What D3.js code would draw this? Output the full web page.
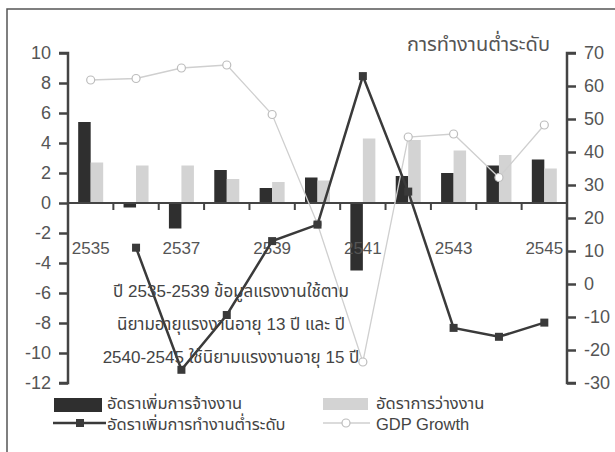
<!DOCTYPE html>
<html><head><meta charset="utf-8">
<script src="https://cdn.jsdelivr.net/npm/d3@7/dist/d3.min.js"></script>
<style>
body{margin:0;background:#fff;}
svg{display:block;font-family:"Liberation Sans",Arial,"Noto Sans Thai","Noto Sans",sans-serif;}
</style></head><body>
<script>
const years = ["2535","2536","2537","2538","2539","2540","2541","2542","2543","2544","2545"];
const xLabels = ["2535","2537","2539","2541","2543","2545"];
const employmentGrowth = [5.4,-0.3,-1.7,2.2,1.0,1.7,-4.5,1.8,2.0,2.5,2.9];
const unemploymentRate = [2.7,2.5,2.5,1.6,1.4,1.5,4.3,4.2,3.5,3.2,2.3];
const underemploymentGrowth = [null,11,-26,-9.4,13,18,63,28,-13.3,-16,-11.7];
const gdpGrowth = [8.2,8.3,9.0,9.2,5.9,-1.4,-10.6,4.4,4.6,1.7,5.2];
const leftTicks = [-12,-10,-8,-6,-4,-2,0,2,4,6,8,10];
const rightTicks = [-30,-20,-10,0,10,20,30,40,50,60,70];
const legendLabels = ["อัดราเพิ่มการจ้างงาน","อัดราการว่างงาน","อัดราเพิ่มการทำงานต่ำระดับ","GDP Growth"];
const rightTitle = "การทำงานต่ำระดับ";
const noteLines = ["ปี 2535-2539 ข้อมูลแรงงานใช้ตาม","นิยามอายุแรงงานอายุ 13 ปี และ ปี","2540-2545 ใช้นิยามแรงงานอายุ 15 ปี"];

const W=615,H=452;
const svg=d3.select("body").append("svg").attr("width",W).attr("height",H);
svg.append("rect").attr("x",7).attr("y",9).attr("width",W+20).attr("height",H+20)
  .attr("fill","#fff").attr("stroke","#555").attr("stroke-width",1.5);

const x=d3.scaleBand().domain(years).range([68,567]);
const yL=d3.scaleLinear().domain([-12,10]).range([383,53]);
const yR=d3.scaleLinear().domain([-30,70]).range([383,53]);
const axisColor="#444", textColor="#555";
const bw=12.5;

// bars
svg.append("g").selectAll("rect").data(years).join("rect")
  .attr("x",d=>x(d)+x.bandwidth()/2-bw)
  .attr("width",bw)
  .attr("y",(d,i)=>yL(Math.max(0,employmentGrowth[i])))
  .attr("height",(d,i)=>Math.abs(yL(employmentGrowth[i])-yL(0)))
  .attr("fill","#2f2f2f");
svg.append("g").selectAll("rect").data(years).join("rect")
  .attr("x",d=>x(d)+x.bandwidth()/2)
  .attr("width",bw)
  .attr("y",(d,i)=>yL(Math.max(0,unemploymentRate[i])))
  .attr("height",(d,i)=>Math.abs(yL(unemploymentRate[i])-yL(0)))
  .attr("fill","#d3d3d3");

// zero axis
const zeroY=yL(0);
svg.append("line").attr("x1",68).attr("x2",567).attr("y1",zeroY).attr("y2",zeroY)
  .attr("stroke",axisColor).attr("stroke-width",2);
svg.append("g").selectAll("line").data(years.slice(1)).join("line")
  .attr("x1",d=>x(d)).attr("x2",d=>x(d)).attr("y1",zeroY).attr("y2",zeroY+7)
  .attr("stroke",axisColor).attr("stroke-width",2);
svg.append("g").selectAll("text").data(xLabels).join("text")
  .attr("x",d=>x(d)+x.bandwidth()/2).attr("y",254)
  .attr("text-anchor","middle").attr("font-size",17).attr("fill",textColor).text(d=>d);

// GDP line
const cx=d=>x(d)+x.bandwidth()/2;
const gdpLine=d3.line().x((d,i)=>cx(years[i])).y(d=>yL(d));
svg.append("path").attr("d",gdpLine(gdpGrowth)).attr("fill","none")
  .attr("stroke","#cfcfcf").attr("stroke-width",1.3);
svg.append("g").selectAll("circle").data(gdpGrowth).join("circle")
  .attr("cx",(d,i)=>cx(years[i])).attr("cy",d=>yL(d)).attr("r",4)
  .attr("fill","#fff").attr("stroke","#bdbdbd").attr("stroke-width",1.2);

// underemployment line
const uLine=d3.line().defined(d=>d!==null).x((d,i)=>cx(years[i])).y(d=>yR(d));
svg.append("path").attr("d",uLine(underemploymentGrowth)).attr("fill","none")
  .attr("stroke","#3a3a3a").attr("stroke-width",2.5);
svg.append("g").selectAll("rect").data(underemploymentGrowth.map((v,i)=>({v,i})).filter(d=>d.v!==null)).join("rect")
  .attr("x",d=>cx(years[d.i])-4).attr("y",d=>yR(d.v)-4).attr("width",8).attr("height",8)
  .attr("fill","#3a3a3a");

// left axis
const fmt=d=>String(d);
const la=svg.append("g").attr("transform","translate(68,0)")
  .call(d3.axisLeft(yL).tickValues(leftTicks).tickSize(9).tickPadding(8).tickFormat(fmt));
la.select(".domain").attr("stroke",axisColor).attr("stroke-width",2.5).attr("d","M-9,53H0V383H-9");
la.selectAll(".tick line").attr("stroke",axisColor).attr("stroke-width",2.5);
la.selectAll(".tick text").attr("font-size",18).attr("fill",textColor).attr("font-family","Liberation Sans,Arial,sans-serif");

// right axis
const ra=svg.append("g").attr("transform","translate(567,0)")
  .call(d3.axisRight(yR).tickValues(rightTicks).tickSize(9).tickPadding(8).tickFormat(fmt));
ra.select(".domain").attr("stroke",axisColor).attr("stroke-width",2.5).attr("d","M9,53H0V383H9");
ra.selectAll(".tick line").attr("stroke",axisColor).attr("stroke-width",2.5);
ra.selectAll(".tick text").attr("font-size",18).attr("fill",textColor).attr("font-family","Liberation Sans,Arial,sans-serif");

// right title
svg.append("text").attr("x",550).attr("y",51).attr("text-anchor","end")
  .attr("font-size",20).attr("fill",textColor).text(rightTitle);

// note
svg.append("g").selectAll("text").data(noteLines).join("text")
  .attr("x",231).attr("y",(d,i)=>297+i*33).attr("text-anchor","middle")
  .attr("font-size",17).attr("fill","#444").text(d=>d);

// legend
svg.append("rect").attr("x",54).attr("y",398).attr("width",48).attr("height",14).attr("fill","#2f2f2f");
svg.append("text").attr("x",107).attr("y",409).attr("font-size",16.5).attr("fill","#444").text(legendLabels[0]);
svg.append("rect").attr("x",323).attr("y",398).attr("width",45).attr("height",12).attr("fill","#d3d3d3");
svg.append("text").attr("x",376).attr("y",409).attr("font-size",16.5).attr("fill","#444").text(legendLabels[1]);
svg.append("line").attr("x1",53).attr("x2",106).attr("y1",423).attr("y2",423).attr("stroke","#3a3a3a").attr("stroke-width",2.5);
svg.append("rect").attr("x",76).attr("y",419).attr("width",8).attr("height",8).attr("fill","#3a3a3a");
svg.append("text").attr("x",107).attr("y",430).attr("font-size",16.5).attr("fill","#444").text(legendLabels[2]);
svg.append("line").attr("x1",323).attr("x2",370).attr("y1",423).attr("y2",423).attr("stroke","#cfcfcf").attr("stroke-width",1.3);
svg.append("circle").attr("cx",346).attr("cy",423).attr("r",4).attr("fill","#fff").attr("stroke","#bdbdbd").attr("stroke-width",1.2);
svg.append("text").attr("x",376).attr("y",430).attr("font-size",16.5).attr("fill","#444").text(legendLabels[3]);
</script>
</body></html>
